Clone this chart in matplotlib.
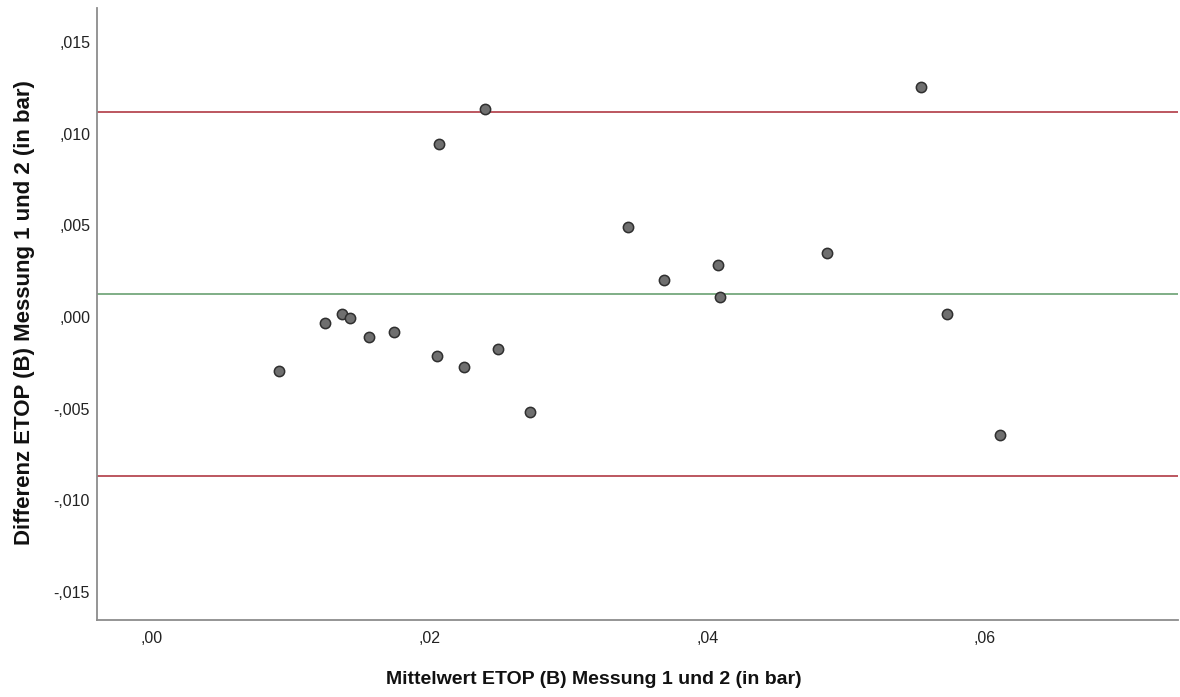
import matplotlib
matplotlib.use("Agg")
import matplotlib.pyplot as plt

# ---- data ----
mean_vals = [0.00915, 0.01244, 0.01366, 0.01424, 0.01561, 0.01745, 0.02051, 0.02069,
             0.02247, 0.02401, 0.02490, 0.02725, 0.03427, 0.03688, 0.04075, 0.04094,
             0.04860, 0.05541, 0.05724, 0.06110]
diff_vals = [-0.00295, -0.00034, 0.00018, -0.00005, -0.00107, -0.00083, -0.00211, 0.00944,
             -0.00271, 0.01135, -0.00175, -0.00517, 0.00489, 0.00202, 0.00285, 0.00109,
             0.00351, 0.01256, 0.00016, -0.00642]
mean_diff = 0.00124
upper_loa = 0.01118
lower_loa = -0.00867

x_ticks = [0.00, 0.02, 0.04, 0.06]
x_ticklabels = [",00", ",02", ",04", ",06"]
y_ticks = [-0.015, -0.010, -0.005, 0.000, 0.005, 0.010, 0.015]
y_ticklabels = ["-,015", "-,010", "-,005", ",000", ",005", ",010", ",015"]

x_label = "Mittelwert ETOP (B) Messung 1 und 2 (in bar)"
y_label = "Differenz ETOP (B) Messung 1 und 2 (in bar)"

# ---- plot ----
plt.rcParams['font.family'] = ['Liberation Sans', 'DejaVu Sans']
fig = plt.figure(figsize=(11.8, 6.97), dpi=100)
ax = fig.add_axes([97/1180, 1 - 620/697, (1178 - 97)/1180, (620 - 8)/697])

ax.axhline(upper_loa, color="#b03a44", lw=1.2, zorder=1)
ax.axhline(lower_loa, color="#b03a44", lw=1.2, zorder=1)
ax.axhline(mean_diff, color="#7fae86", lw=1.4, zorder=1)

ax.scatter(mean_vals, diff_vals, s=55, facecolor="#6f6f6f", edgecolor="#2f2f2f",
           linewidths=1.1, zorder=3)

ax.set_xlim(-0.00396, 0.0739)
ax.set_ylim(-0.01653, 0.01685)
ax.set_xticks(x_ticks)
ax.set_xticklabels(x_ticklabels)
ax.set_yticks(y_ticks)
ax.set_yticklabels(y_ticklabels)
ax.tick_params(axis="both", length=0, labelsize=11.5, labelcolor="#222222")
ax.tick_params(axis="x", pad=8)
ax.tick_params(axis="y", pad=5)

for s in ["top", "right"]:
    ax.spines[s].set_visible(False)
for s in ["left", "bottom"]:
    ax.spines[s].set_color("#8c8c8c")
    ax.spines[s].set_linewidth(1.3)

fig.text(594/1180, 1 - 680/697, x_label, fontsize=14, fontweight="bold", color="#111111",
         ha="center", va="center")
fig.text(25/1180, 1 - 313/697, y_label, fontsize=16, fontweight="bold", color="#111111",
         ha="center", va="center", rotation=90)

fig.savefig("out.png", dpi=100)
